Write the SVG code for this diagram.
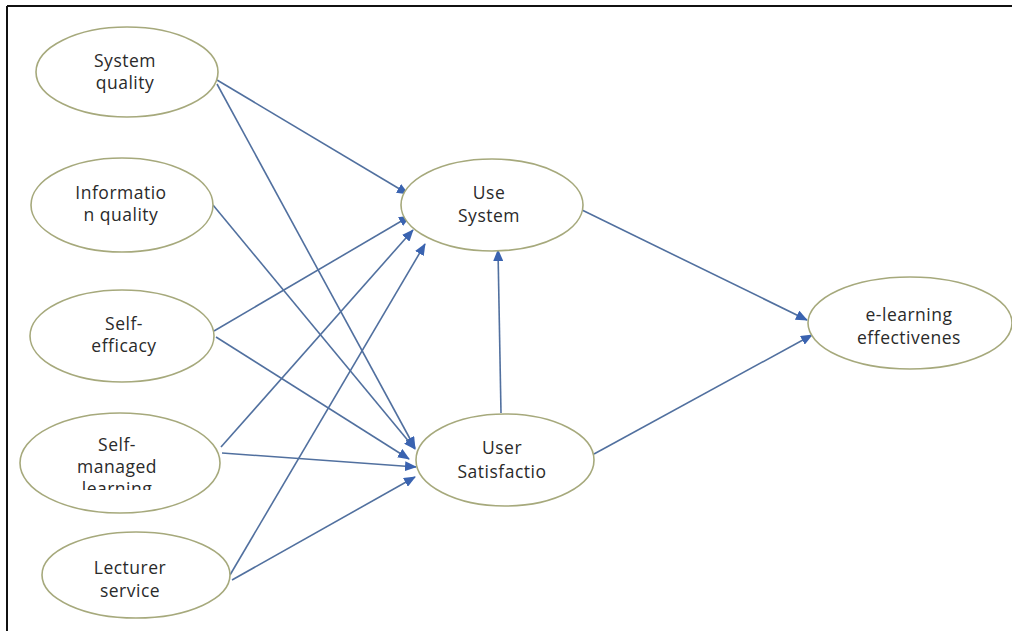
<svg xmlns="http://www.w3.org/2000/svg" width="1012" height="631" viewBox="0 0 1012 631">
<style>
.node ellipse{fill:#ffffff;stroke:#a6a97c;stroke-width:1.6}
.node text{font-family:"Open Sans","Noto Sans","Liberation Sans",sans-serif;font-size:17.5px;fill:#2a2a2a;text-anchor:middle;letter-spacing:0.5px}
#connectors line{stroke:#51709f;stroke-width:1.6;fill:none;marker-end:url(#arr)}
</style>
<defs>
<marker id="arr" viewBox="0 0 12 10" refX="11" refY="5" markerWidth="12" markerHeight="10" markerUnits="userSpaceOnUse" orient="auto">
<path d="M0,0 L12,5 L0,10 Z" fill="#3a63b0"/>
</marker>
<clipPath id="clipSM"><rect x="0" y="0" width="300" height="490"/></clipPath>
</defs>
<rect x="0" y="0" width="1012" height="631" fill="#ffffff"/>
<g id="frame" fill="none" stroke="#111111" stroke-width="2">
<line x1="7" y1="6" x2="1012" y2="6"/>
<line x1="7" y1="6" x2="7" y2="631"/>
</g>
<g id="connectors">
<line x1="217" y1="80" x2="408" y2="194"/>
<line x1="217" y1="84" x2="415" y2="448"/>
<line x1="213" y1="205" x2="415" y2="449"/>
<line x1="214" y1="331" x2="410" y2="216"/>
<line x1="216" y1="337" x2="409" y2="459"/>
<line x1="221" y1="447" x2="413" y2="230"/>
<line x1="222" y1="453" x2="416" y2="467"/>
<line x1="230" y1="575" x2="425" y2="244"/>
<line x1="232" y1="580" x2="415" y2="477"/>
<line x1="501" y1="413" x2="498" y2="250"/>
<line x1="582" y1="210" x2="807" y2="320"/>
<line x1="594" y1="454" x2="812" y2="335"/>
</g>
<g id="system-quality" class="node">
<ellipse cx="127" cy="72" rx="91" ry="45"/>
<text x="125" y="67">System</text>
<text x="125" y="89">quality</text>
</g>
<g id="information-quality" class="node">
<ellipse cx="122" cy="205" rx="91" ry="47"/>
<text x="121" y="199">Informatio</text>
<text x="121" y="221">n quality</text>
</g>
<g id="self-efficacy" class="node">
<ellipse cx="122" cy="336" rx="92" ry="46"/>
<text x="124" y="330">Self-</text>
<text x="124" y="352">efficacy</text>
</g>
<g id="self-managed-learning" class="node">
<ellipse cx="120" cy="463" rx="100" ry="50"/>
<g clip-path="url(#clipSM)">
<text x="117" y="451">Self-</text>
<text x="117" y="473">managed</text>
<text x="117" y="495">learning</text>
</g>
</g>
<g id="lecturer-service" class="node">
<ellipse cx="136" cy="575" rx="94" ry="43"/>
<text x="130" y="574">Lecturer</text>
<text x="130" y="597">service</text>
</g>
<g id="use-system" class="node">
<ellipse cx="492" cy="205" rx="91" ry="46"/>
<text x="489" y="199">Use</text>
<text x="489" y="222">System</text>
</g>
<g id="user-satisfaction" class="node">
<ellipse cx="505" cy="460" rx="89" ry="46"/>
<text x="502" y="454">User</text>
<text x="502" y="478">Satisfactio</text>
</g>
<g id="e-learning-effectiveness" class="node">
<ellipse cx="910" cy="323" rx="102" ry="46"/>
<text x="909" y="321">e-learning</text>
<text x="909" y="344">effectivenes</text>
</g>
</svg>
